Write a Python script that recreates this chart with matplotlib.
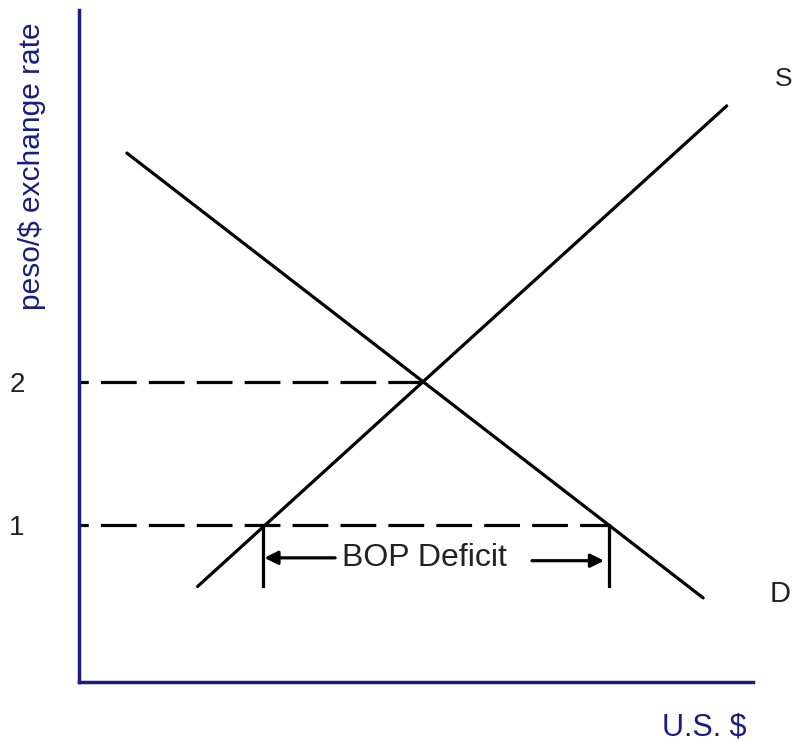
import matplotlib.pyplot as plt

# demand and supply curves (quantity of U.S. $, peso/$ rate)
demand_q = [0.71, 9.26]
demand_p = [3.60, 0.49]
supply_q = [1.76, 9.61]
supply_p = [0.57, 3.93]

eq_q, eq_p = 5.09, 2.0          # equilibrium
low_p = 1.0                     # fixed rate
qs_low, qd_low = 2.73, 7.86     # quantity supplied / demanded at rate 1

price_ticks = [1, 2]
price_labels = ["1", "2"]

navy = "#1c1c80"
grey = "#222222"
font = "Liberation Sans"

fig = plt.figure(figsize=(7.93, 7.43), dpi=100)
ax = fig.add_axes([0.0996, 0.0821, 0.85, 0.9044])
ax.set_xlim(0, 10)
ax.set_ylim(-0.098, 4.60)

lw = 2.3
ax.plot(demand_q, demand_p, color="black", lw=lw, solid_capstyle="round")
ax.plot(supply_q, supply_p, color="black", lw=lw, solid_capstyle="round")

dash = (8.3, (11.2, 3.8))
ax.plot([0, eq_q], [eq_p, eq_p], color="black", lw=lw, linestyle=dash)
ax.plot([0, qd_low], [low_p, low_p], color="black", lw=lw, linestyle=dash)

# BOP deficit bracket
bar_bottom = 0.57
ax.plot([qs_low, qs_low], [low_p, bar_bottom], color="black", lw=lw)
ax.plot([qd_low, qd_low], [low_p, bar_bottom], color="black", lw=lw)
arrow_y = 0.77
aprops = dict(arrowstyle="-|>", color="black", lw=lw, mutation_scale=20,
              shrinkA=0, shrinkB=0)
ax.annotate("", xy=(qs_low + 0.02, arrow_y), xytext=(3.80, arrow_y), arrowprops=aprops)
ax.annotate("", xy=(qd_low - 0.07, arrow_y - 0.02), xytext=(6.72, arrow_y - 0.02), arrowprops=aprops)
ax.text(5.13, arrow_y, "BOP Deficit", ha="center", va="center",
        fontsize=23, color=grey, family=font)

ax.text(10.33, 4.12, "S", ha="left", va="center", fontsize=19, color=grey, family=font)
ax.text(10.40, 0.52, "D", ha="center", va="center", fontsize=21, color=grey, family=font)

# axes styling
for side in ["top", "right"]:
    ax.spines[side].set_visible(False)
for side in ["left", "bottom"]:
    ax.spines[side].set_color(navy)
    ax.spines[side].set_linewidth(2.5)
ax.set_xticks([])
ax.set_yticks(price_ticks)
ax.set_yticklabels(price_labels, fontsize=20, color=grey, family=font)
ax.tick_params(axis="y", length=0, pad=39)

ax.set_ylabel("peso/$ exchange rate", fontsize=21.5, color=navy, family=font, va="center")
ax.yaxis.set_label_coords(-0.0697, 0.768)
ax.set_xlabel("U.S. $", fontsize=22, color=navy, family=font, va="center")
ax.xaxis.set_label_coords(0.927, -0.067)

plt.savefig("out.png", dpi=100)
